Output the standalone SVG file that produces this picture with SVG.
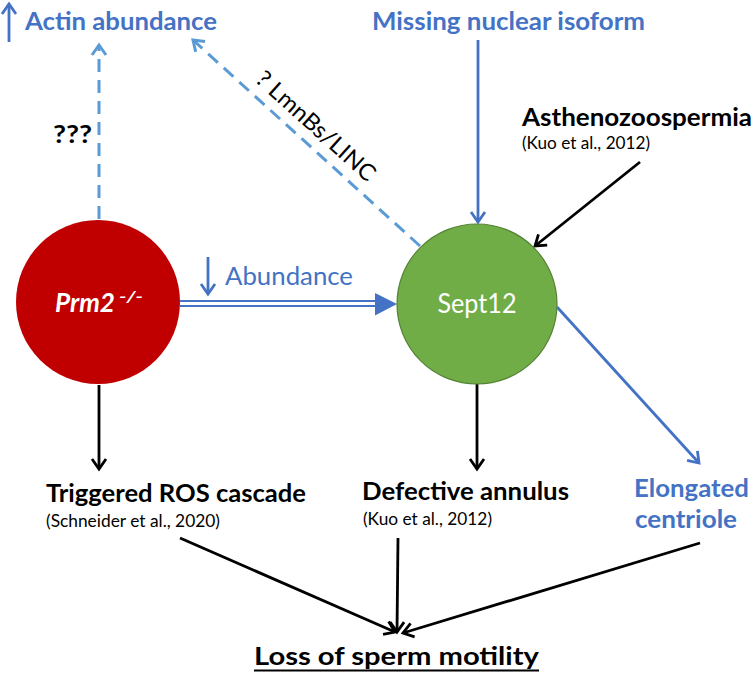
<svg xmlns="http://www.w3.org/2000/svg" width="754" height="675" viewBox="0 0 754 675">
<style>
text{font-family:Lato,"Open Sans","Liberation Sans",sans-serif}
.b{font-weight:bold;font-size:25px}
.blue{fill:#4472C4}
.blk{fill:#000}
.ref{font-size:18px}
.wt{fill:#fff}
.ln{fill:none;stroke-width:2.8}
.k{stroke:#000}
.bl{stroke:#4472C4}
.dash{fill:none;stroke:#5B9BD5;stroke-width:3;stroke-dasharray:13 8}
</style>
<defs>
<marker id="ak" viewBox="-13 -9 16 18" markerWidth="16" markerHeight="18" refX="0" refY="0" orient="auto" markerUnits="userSpaceOnUse">
<path d="M-10,-7 L0,0 L-10,7" fill="none" stroke="#000" stroke-width="2.8"/>
</marker>
<marker id="ab" viewBox="-13 -9 16 18" markerWidth="16" markerHeight="18" refX="0" refY="0" orient="auto" markerUnits="userSpaceOnUse">
<path d="M-10,-7 L0,0 L-10,7" fill="none" stroke="#4472C4" stroke-width="2.8"/>
</marker>
<marker id="ad" viewBox="-13 -9 16 18" markerWidth="16" markerHeight="18" refX="0" refY="0" orient="auto" markerUnits="userSpaceOnUse">
<path d="M-10,-7 L0,0 L-10,7" fill="none" stroke="#5B9BD5" stroke-width="3"/>
</marker>
</defs>
<rect width="754" height="675" fill="#fff"/>

<g id="connectors">
<line class="dash" x1="99" y1="219" x2="99" y2="45" marker-end="url(#ad)"/>
<line class="dash" x1="420" y1="246" x2="193" y2="40" marker-end="url(#ad)"/>
<line class="ln bl" x1="478" y1="40" x2="478" y2="222" marker-end="url(#ab)"/>
<line class="ln k" x1="640" y1="162" x2="535" y2="246" marker-end="url(#ak)"/>
<line x1="180" y1="301" x2="378" y2="301" stroke="#4472C4" stroke-width="2.2"/>
<line x1="180" y1="306" x2="378" y2="306" stroke="#4472C4" stroke-width="2.2"/>
<polygon points="375,293 397,304 375,315.5" fill="#4472C4"/>
<line class="ln bl" x1="557" y1="307" x2="699" y2="463" marker-end="url(#ab)"/>
<line class="ln k" x1="99" y1="385" x2="99" y2="469" marker-end="url(#ak)"/>
<line class="ln k" x1="477" y1="384" x2="477" y2="469" marker-end="url(#ak)"/>
<line class="ln k" x1="180" y1="538" x2="395" y2="632" marker-end="url(#ak)"/>
<line class="ln k" x1="398" y1="538" x2="397" y2="632" marker-end="url(#ak)"/>
<line class="ln k" x1="700" y1="543" x2="403" y2="633" marker-end="url(#ak)"/>
</g>

<g id="actin">
<line class="ln bl" x1="9" y1="42" x2="9" y2="4" marker-end="url(#ab)" stroke-width="2.2"/>
<text class="b blue" x="25" y="30" textLength="192" lengthAdjust="spacingAndGlyphs">Actin abundance</text>
</g>
<g id="q-label"><text class="b blk" x="53" y="143" font-size="26" textLength="39" lengthAdjust="spacingAndGlyphs">???</text></g>
<g id="lmnbs-label"><text transform="translate(316,126) rotate(42)" x="0" y="8" text-anchor="middle" font-size="23" textLength="152" lengthAdjust="spacingAndGlyphs">? LmnBs/LINC</text></g>
<g id="missing"><text class="b blue" x="372" y="30" textLength="273" lengthAdjust="spacingAndGlyphs">Missing nuclear isoform</text></g>
<g id="astheno">
<text class="b blk" x="522" y="126" textLength="230" lengthAdjust="spacingAndGlyphs">Asthenozoospermia</text>
<text class="ref" x="522" y="149" textLength="128" lengthAdjust="spacingAndGlyphs">(Kuo et al., 2012)</text>
</g>
<g id="abundance">
<line class="ln bl" x1="208" y1="257" x2="208" y2="294" marker-end="url(#ab)" stroke-width="2.2"/>
<text class="blue" x="225" y="285" font-size="25" textLength="128" lengthAdjust="spacingAndGlyphs">Abundance</text>
</g>
<g id="prm2">
<circle cx="98" cy="302" r="82" fill="#C00000"/>
<text class="wt" x="55" y="312" font-size="26" font-weight="bold" font-style="italic" textLength="60" lengthAdjust="spacingAndGlyphs">Prm2</text>
<text class="wt" x="119" y="302" font-size="16" font-style="italic" font-weight="bold" textLength="24" lengthAdjust="spacingAndGlyphs">-/-</text>
</g>
<g id="sept12">
<circle cx="477" cy="304" r="80" fill="#70AD47" stroke="#548235" stroke-width="1.2"/>
<text class="wt" x="477" y="313" font-size="26" text-anchor="middle" textLength="79" lengthAdjust="spacingAndGlyphs">Sept12</text>
</g>
<g id="ros">
<text class="b blk" x="46" y="502" textLength="260" lengthAdjust="spacingAndGlyphs">Triggered ROS cascade</text>
<text class="ref" x="46" y="527" textLength="174" lengthAdjust="spacingAndGlyphs">(Schneider et al., 2020)</text>
</g>
<g id="annulus">
<text class="b blk" x="362" y="500" textLength="207" lengthAdjust="spacingAndGlyphs">Defective annulus</text>
<text class="ref" x="363" y="525" textLength="129" lengthAdjust="spacingAndGlyphs">(Kuo et al., 2012)</text>
</g>
<g id="centriole">
<text class="b blue" x="634" y="497" textLength="115" lengthAdjust="spacingAndGlyphs">Elongated</text>
<text class="b blue" x="635" y="528" textLength="102" lengthAdjust="spacingAndGlyphs">centriole</text>
</g>
<g id="motility">
<text class="b blk" x="254" y="665" font-size="26" textLength="285" lengthAdjust="spacingAndGlyphs">Loss of sperm motility</text>
<line x1="254" y1="670.5" x2="539" y2="670.5" stroke="#000" stroke-width="2"/>
</g>
</svg>
